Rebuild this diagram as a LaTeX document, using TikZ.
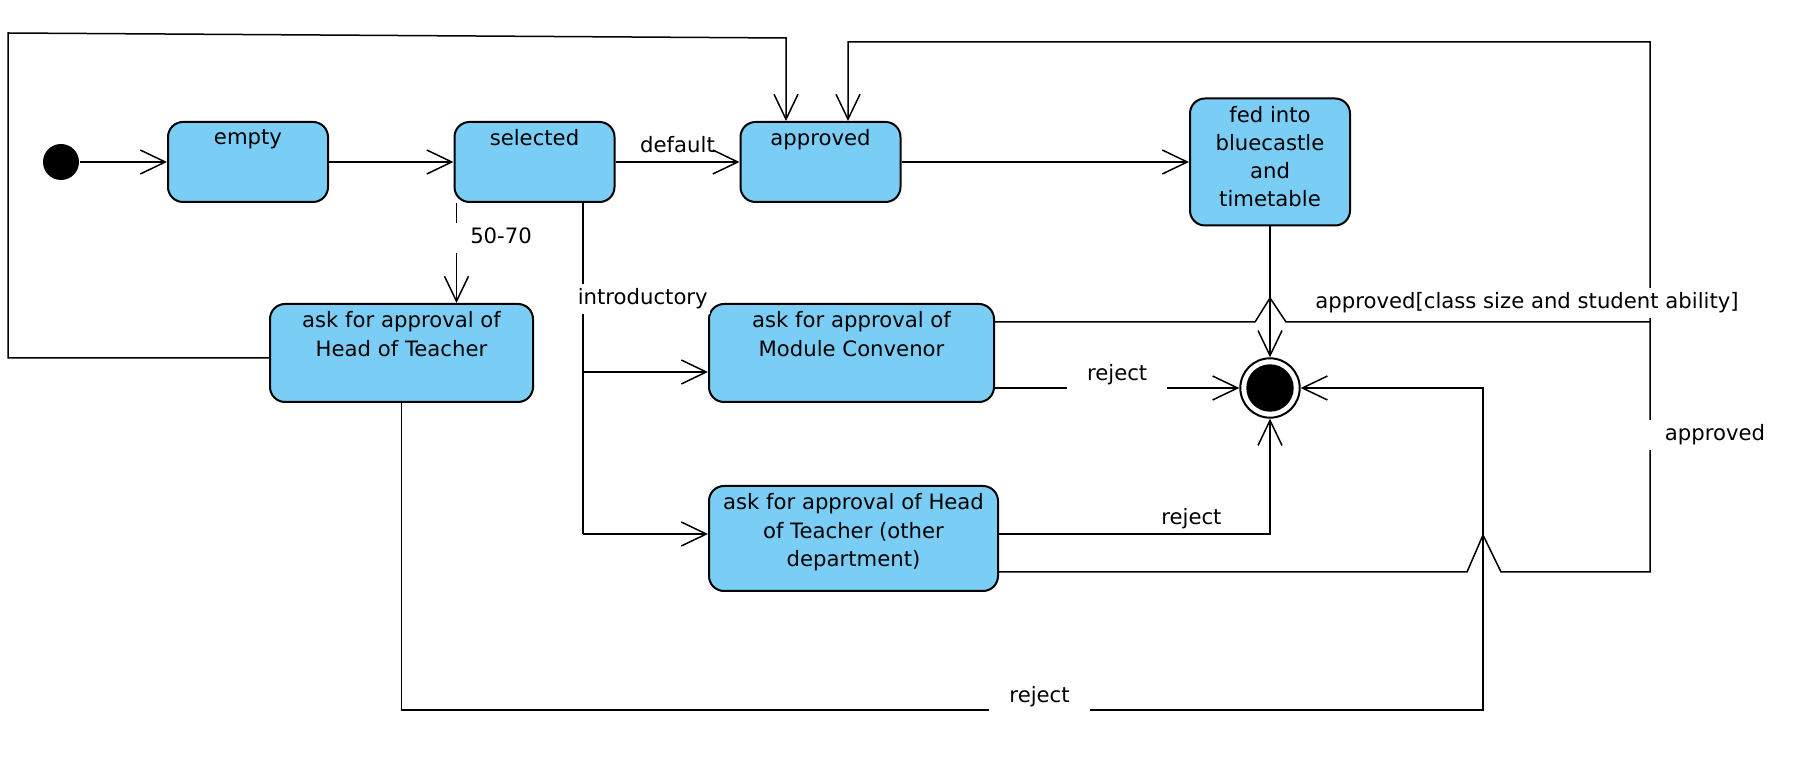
\documentclass[tikz,border=0pt]{standalone}
\usepackage{fontspec}
\setmainfont{DejaVu Sans}
\usepackage{tikz}
\usepackage{xcolor}
\usetikzlibrary{arrows.meta,positioning}
\tikzset{% 
	statebox/.style={rectangle, draw=black, line width=1pt, fill=StateBlue,
		rounded corners=7.5pt, inner sep=0pt},
	statename/.style={anchor=north, align=center, inner sep=0pt, yshift=-4pt},
	startdot/.style={circle, draw=none, fill=black, minimum size=18pt, inner sep=0pt},
	enddot/.style={circle, draw=black, line width=1pt, minimum size=29.7pt, inner sep=0pt,
		path picture={\fill[black] (path picture bounding box.center) circle (11.85pt);}},
	guard/.style={inner xsep=10pt, inner ysep=2pt, text height=8.5pt, text depth=2.5pt},
	cut/.style={guard, fill=white},
}
\definecolor{StateBlue}{RGB}{122,206,245}

\begin{document}
\begin{tikzpicture}[
	x=0.5pt, y=-0.5pt, line width=0.75pt,
	>={Straight Barb[length=12.5pt,width=12pt]},
	font=\fontsize{10.6pt}{14.1pt}\selectfont]

	\useasboundingbox (0,0) rectangle (1810,758);

	\node [startdot] (Init) at (61,162) {};
	\node [statebox, minimum width=80pt, minimum height=40pt,
		label={[statename]north:empty}] (Empty) [right of = Init, node distance=93.5pt] {};
	\node [statebox, minimum width=80pt, minimum height=40pt,
		label={[statename]north:selected}] (Selected) [right of = Empty, node distance=143.25pt] {};
	\node [statebox, minimum width=80pt, minimum height=40pt,
		label={[statename]north:approved}] (Approved) [right of = Selected, node distance=143pt] {};
	\node [statebox, minimum width=80pt, minimum height=63.5pt,
		label={[statename]north:{fed into\\bluecastle\\and\\timetable}}] (Fed) [right of = Approved, node distance=224.75pt] {};

	\node [statebox, minimum width=131.5pt, minimum height=49pt,
		label={[statename]north:{ask for approval of\\Head of Teacher}}] (HeadApproval) at (401.5,353) {};
	\node [statebox, minimum width=142.5pt, minimum height=49pt,
		label={[statename]north:{ask for approval of\\Module Convenor}}] (ConvenorApproval) at (851.5,353) {};
	\node [statebox, minimum width=144.5pt, minimum height=52.5pt,
		label={[statename]north:{ask for approval of Head\\of Teacher (other\\department)}}] (OtherApproval) at (853.5,538.5) {};
	\node [enddot] (Final) at (1270,388) {};

	\draw [->] (Init) -- (Empty);
	\draw [->] (Empty) -- (Selected);
	\draw [->] (Selected) -- node [guard, above] {default} (Approved);
	\draw [->] (Approved) -- (Fed);
	\draw [->] (Fed) -- (Final);

	\coordinate (Split) at ([xshift=1.5pt]Selected.south west);
	\draw [->] (Split) -- node [cut, pos=0.35, right=-3.5pt] {50-70} (Split |- HeadApproval.north);

	\coordinate (Branch) at ([xshift=24.25pt]Selected.south);
	\coordinate (ConvenorTap) at ([yshift=-9.5pt]ConvenorApproval.west);
	\coordinate (OtherTap) at ([yshift=2.25pt]OtherApproval.west);
	\draw (Branch) -- node [cut, inner xsep=1pt, pos=0.29, right=-4pt] {introductory} (Branch |- OtherTap);
	\draw [->] (Branch |- ConvenorTap) -- (ConvenorTap);
	\draw [->] (Branch |- OtherTap) -- (OtherTap);

	\coordinate (ApprovedLeft) at ([xshift=-17.25pt]Approved.north);
	\draw [->] ([yshift=-2.5pt]HeadApproval.west) -- (8,358) -- (8,33) -- (ApprovedLeft |- 0,38) -- (ApprovedLeft);

	\coordinate (ApprovedRight) at ([xshift=13.75pt]Approved.north);
	\draw [->] ([yshift=15.5pt]ConvenorApproval.east) -- (1255,322) -- ++(15,-24) -- ++(16,24) -- (1650,322)
		-- node [cut, pos=0.068, xshift=-61.5pt] {approved[class size and student ability]} (1650,42)
		-- (ApprovedRight |- 0,42) -- (ApprovedRight);
	\draw ([yshift=-16.75pt]OtherApproval.east) -- (1467,572) -- ++(16,-37) -- ++(18,37) -- (1650,572)
		-- node [cut, pos=0.548, xshift=32.5pt] {approved} (1650,322);

	\draw [->] (ConvenorApproval.east |- Final) -- node [cut, above=-1pt] {reject} (Final);
	\draw [->] ([yshift=2.25pt]OtherApproval.east) -| node [guard, pos=0.355, above] {reject} (Final);
	\draw [->] (HeadApproval.south) |- node [cut, pos=0.795, above=-1pt] {reject} (1483,710) |- (Final);

\end{tikzpicture}
\end{document}
